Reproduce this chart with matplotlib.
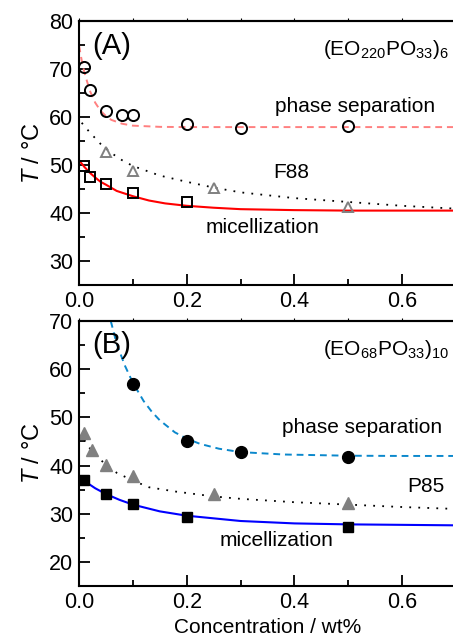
import matplotlib
matplotlib.use("Agg")
import matplotlib.pyplot as plt
from matplotlib.ticker import MultipleLocator

plt.rcParams['font.family'] = ['Liberation Sans', 'DejaVu Sans']
plt.rcParams['mathtext.fontset'] = 'custom'
plt.rcParams['mathtext.rm'] = 'Liberation Sans'
plt.rcParams['mathtext.it'] = 'Liberation Sans:italic'

# ---- Panel A: (EO220PO33)6 ----
a_phase_x = [0.01, 0.02, 0.05, 0.08, 0.1, 0.2, 0.3, 0.5]
a_phase_y = [70.4, 65.7, 61.3, 60.5, 60.5, 58.5, 57.8, 58.1]
a_mic_x = [0.01, 0.02, 0.05, 0.1, 0.2]
a_mic_y = [49.8, 47.6, 46.0, 44.2, 42.3]
a_f88_x = [0.05, 0.1, 0.25, 0.5]
a_f88_y = [52.8, 48.7, 45.2, 41.3]

# fit curves
a_phase_fit_x = [0.0, 0.005, 0.01, 0.02, 0.03, 0.04, 0.05, 0.06, 0.08, 0.1, 0.15, 0.2, 0.3, 0.5, 0.7]
a_phase_fit_y = [74.9, 71.8, 69.3, 65.5, 63.0, 61.3, 60.2, 59.4, 58.6, 58.2, 57.95, 57.9, 57.9, 57.9, 57.9]
a_mic_fit_x = [0.0, 0.01, 0.02, 0.03, 0.04, 0.05, 0.07, 0.1, 0.13, 0.16, 0.2, 0.25, 0.3, 0.4, 0.5, 0.6, 0.7]
a_mic_fit_y = [51.0, 49.6, 48.4, 47.4, 46.5, 45.9, 44.6, 43.5, 42.6, 42.0, 41.5, 41.1, 40.8, 40.6, 40.5, 40.5, 40.5]
a_f88_fit_x = [0.005, 0.02, 0.04, 0.06, 0.08, 0.1, 0.15, 0.2, 0.25, 0.3, 0.4, 0.5, 0.6, 0.7]
a_f88_fit_y = [58.8, 56.8, 54.4, 52.5, 51.0, 49.8, 47.8, 46.5, 45.3, 44.3, 43.1, 42.3, 41.5, 40.9]

# ---- Panel B: (EO68PO33)10 ----
b_phase_x = [0.1, 0.2, 0.3, 0.5]
b_phase_y = [57.0, 45.2, 42.9, 41.7]
b_mic_x = [0.01, 0.05, 0.1, 0.2, 0.5]
b_mic_y = [37.1, 34.1, 32.0, 29.3, 27.3]
b_p85_x = [0.01, 0.025, 0.05, 0.1, 0.25, 0.5]
b_p85_y = [46.7, 43.3, 40.2, 37.8, 34.0, 32.3]

b_phase_fit_x = [0.059, 0.07, 0.085, 0.1, 0.12, 0.135, 0.15, 0.178, 0.2, 0.225, 0.26, 0.3, 0.38, 0.5, 0.6, 0.7]
b_phase_fit_y = [70.0, 65.3, 60.8, 57.2, 53.4, 51.2, 49.4, 46.9, 45.6, 44.5, 43.5, 42.8, 42.3, 42.05, 42.0, 42.0]
b_mic_fit_x = [0.01, 0.03, 0.05, 0.075, 0.1, 0.15, 0.2, 0.3, 0.4, 0.5, 0.6, 0.7]
b_mic_fit_y = [36.8, 35.3, 34.1, 32.9, 31.9, 30.5, 29.6, 28.5, 28.0, 27.8, 27.7, 27.6]
b_p85_fit_x = [0.01, 0.02, 0.035, 0.05, 0.07, 0.1, 0.13, 0.18, 0.25, 0.3, 0.4, 0.5, 0.6, 0.7]
b_p85_fit_y = [45.3, 43.6, 41.7, 40.2, 38.5, 36.9, 35.5, 34.6, 33.6, 33.1, 32.4, 31.9, 31.4, 31.0]

fig = plt.figure(figsize=(4.53, 6.37), dpi=100)
axA = fig.add_axes([0.1744, 0.5526, 0.8256, 0.4144])
axB = fig.add_axes([0.1744, 0.0800, 0.8256, 0.4160])

dash = (0, (3.5, 2.5))
dot = (0, (1, 4))
fs = 15

# Panel A
axA.plot(a_phase_fit_x, a_phase_fit_y, color='#ff8080', lw=1.4, ls=dash)
axA.plot(a_f88_fit_x, a_f88_fit_y, color='black', lw=1.3, ls=dot)
axA.plot(a_mic_fit_x, a_mic_fit_y, color='#ff0000', lw=1.5)
axA.plot(a_phase_x, a_phase_y, 'o', ms=8, mfc='none', mec='black', mew=1.4, clip_on=False)
axA.plot(a_f88_x, a_f88_y, '^', ms=7, mfc='none', mec='#808080', mew=1.4)
axA.plot(a_mic_x, a_mic_y, 's', ms=6.5, mfc='none', mec='black', mew=1.4)
axA.set_ylim(25, 80)
axA.text(0.025, 74.7, '(A)', fontsize=21, va='center', ha='left')
axA.text(0.687, 74.0, r'(EO$_{220}$PO$_{33}$)$_6$', fontsize=15, va='center', ha='right')
axA.text(0.512, 62.1, 'phase separation', fontsize=fs, va='center', ha='center')
axA.text(0.36, 48.5, 'F88', fontsize=fs, va='center', ha='left')
axA.text(0.34, 37.0, 'micellization', fontsize=fs, va='center', ha='center')

# Panel B
axB.plot(b_phase_fit_x, b_phase_fit_y, color='#0b88cc', lw=1.4, ls=dash)
axB.plot(b_p85_fit_x, b_p85_fit_y, color='black', lw=1.3, ls=dot)
axB.plot(b_mic_fit_x, b_mic_fit_y, color='#0000ff', lw=1.5)
axB.plot(b_phase_x, b_phase_y, 'o', ms=8.5, color='black')
axB.plot(b_p85_x, b_p85_y, '^', ms=8, color='#808080')
axB.plot(b_mic_x, b_mic_y, 's', ms=7, color='black')
axB.set_ylim(15, 70)
axB.text(0.025, 65.0, '(B)', fontsize=21, va='center', ha='left')
axB.text(0.687, 64.0, r'(EO$_{68}$PO$_{33}$)$_{10}$', fontsize=15, va='center', ha='right')
axB.text(0.525, 48.0, 'phase separation', fontsize=fs, va='center', ha='center')
axB.text(0.678, 35.7, 'P85', fontsize=fs, va='center', ha='right')
axB.text(0.366, 24.5, 'micellization', fontsize=fs, va='center', ha='center')
axB.set_xlabel('Concentration / wt%', fontsize=15, labelpad=4, x=0.505)

for ax in (axA, axB):
    ax.set_xlim(0, 0.6945)
    ax.xaxis.set_major_locator(MultipleLocator(0.2))
    ax.xaxis.set_minor_locator(MultipleLocator(0.1))
    ax.yaxis.set_major_locator(MultipleLocator(10))
    ax.yaxis.set_minor_locator(MultipleLocator(5))
    ax.tick_params(which='major', direction='in', length=8, width=1.3, labelsize=15.5,
                   left=True, bottom=True, top=False, right=False, pad=4)
    ax.tick_params(which='minor', direction='in', length=4, width=1.3,
                   left=True, bottom=True, top=False, right=False)
    ax.xaxis.set_major_formatter(plt.FuncFormatter(lambda v, p: f'{v:.1f}'))
    ax.spines['right'].set_visible(False)
    for s in ('left', 'bottom', 'top'):
        ax.spines[s].set_linewidth(1.5)
    ax.set_ylabel(r'$T$ / °C', fontsize=17, labelpad=4)
    sec = ax.secondary_xaxis('top')
    sec.xaxis.set_major_locator(MultipleLocator(0.1))
    sec.tick_params(direction='out', length=2, width=0.8, labeltop=False)
    sec.spines['top'].set_linewidth(1.5)

fig.savefig('out.png', dpi=100)
